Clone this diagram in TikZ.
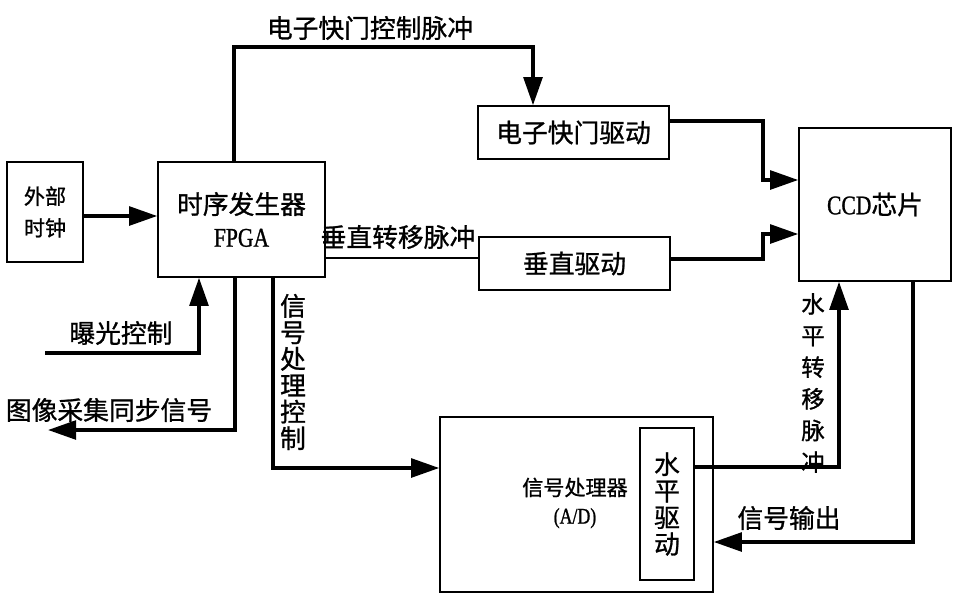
\documentclass[tikz,border=0pt]{standalone}
\usepackage{fontspec}
\setmainfont{Noto Sans CJK SC}[FakeBold=1]
\newfontfamily\latin{Liberation Serif}[FakeStretch=0.8,FakeBold=1]
\usetikzlibrary{fit,arrows.meta}
\begin{document}
\begin{tikzpicture}[x=0.03cm,y=-0.03cm,
  box/.style={draw, line width=1.3pt, inner sep=0pt},
  txt/.style={inner sep=0pt, align=center, font=\fontsize{22}{28}\selectfont},
  conn/.style={line width=3pt},
  thin/.style={line width=1.3pt},
  arr/.style={conn, -{Triangle[length=24pt,width=16pt]}},
  lbl/.style={inner sep=0pt, font=\fontsize{22}{26}\selectfont},
  vlbl/.style={inner sep=0pt, align=center, font=\fontsize{22}{22.6}\selectfont}]
\useasboundingbox (0,0) rectangle (969,606);

% boxes
\node[box, fit={(7,162)(83,262)}] (clk) {};
\node[box, fit={(158,162)(325,277)}] (fpga) {};
\node[box, fit={(478,106)(669,159)}] (shut) {};
\node[box, fit={(479,237)(670,290)}] (vert) {};
\node[box, fit={(799,128)(951,281)}] (ccd) {};
\node[box, fit={(440,417)(713,592)}] (sp) {};
\node[box, fit={(640,428)(694,580)}] (hd) {};

% box texts
\node[txt, font=\fontsize{18}{27}\selectfont] (clkt) at (clk.center) {外部\\时钟};
\node[txt] (fpgat) at (fpga.center) {时序发生器\\{\latin\fontsize{23}{28}\selectfont FPGA}};
\node[txt] (shutt) at (shut.center) {电子快门驱动};
\node[txt] (vertt) at (vert.center) {垂直驱动};
\node[txt] (ccdt) at (ccd.center) {{\latin\fontsize{23}{28}\selectfont CCD}芯片};
\node[txt, font=\fontsize{18}{24}\selectfont] (spt) at (575,503) {信号处理器\\{\latin\fontsize{19}{20}\selectfont (A/D)}};
\node[txt, font=\fontsize{22}{22.7}\selectfont] (hdt) at (hd.center) {水\\平\\驱\\动};

% connectors
\draw[arr] (clk.east |- 0,216) -- (fpga.west |- 0,216);
\draw[arr] (234,0 |- fpga.north) |- (533,47) -- (533,0 |- shut.north);
\draw[thin] (fpga.east |- 0,258) -- (vert.west |- 0,258);
\draw[arr] (shut.east |- 0,121) -| (763,180) -- (ccd.west |- 0,180);
\draw[arr] (vert.east |- 0,259) -| (763,234) -- (ccd.west |- 0,234);
\coordinate (expo) at (45,353);
\draw[arr] (expo) -| (199,0 |- fpga.south);
\coordinate (sync) at (48,430);
\draw[arr] (235,0 |- fpga.south) |- (sync);
\draw[arr] (273,0 |- fpga.south) |- (sp.west |- 0,468);
\draw[arr] (hd.east |- 0,467) -| (839,0 |- ccd.south);
\draw[arr] (913,0 |- ccd.south) |- (sp.east |- 0,542);

% labels
\node[lbl] (l1) at (370,28) {电子快门控制脉冲};
\node[lbl] (l2) at (398,237) {垂直转移脉冲};
\node[lbl] (l3) at (121,333) {曝光控制};
\node[lbl] (l4) at (109,410) {图像采集同步信号};
\node[vlbl] (l5) at (293,372) {信\\号\\处\\理\\控\\制};
\node[vlbl, font=\fontsize{20}{27}\selectfont] (l6) at (813,383) {水\\平\\转\\移\\脉\\冲};
\node[lbl] (l7) at (789,518) {信号输出};
\end{tikzpicture}
\end{document}
